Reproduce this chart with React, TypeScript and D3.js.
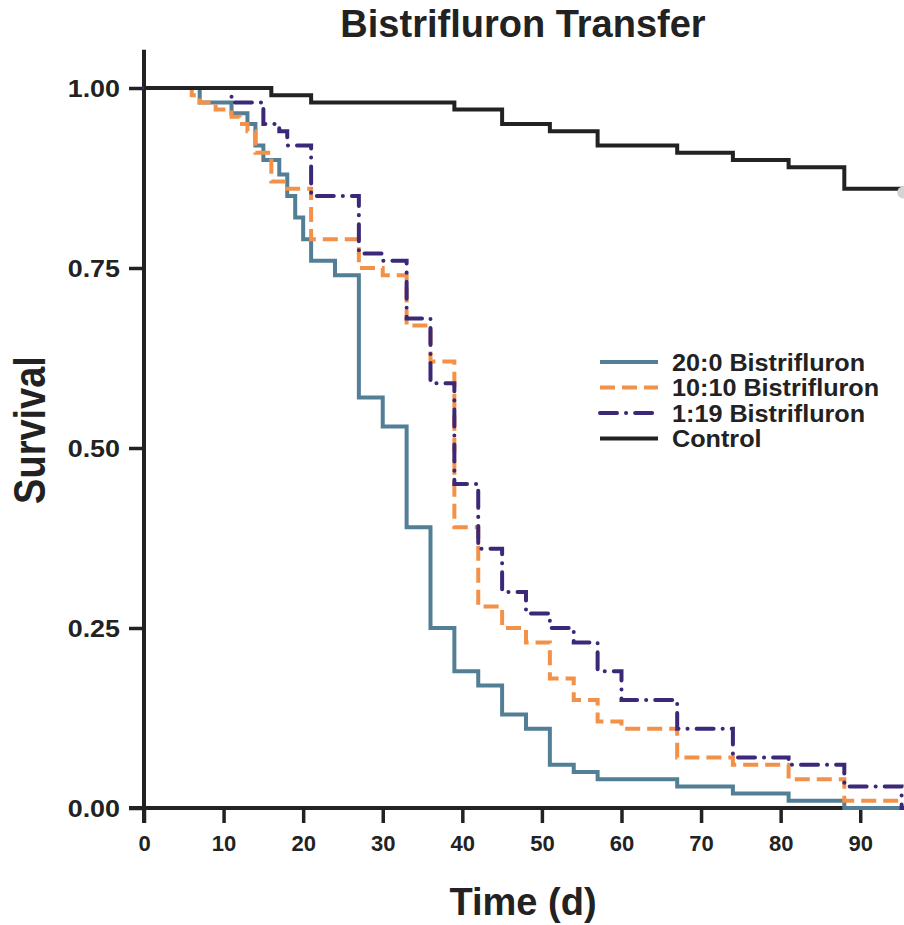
import React, { useRef, useEffect } from 'react';
import * as d3 from 'd3';

// survival steps (time in days, proportion surviving)
const blueTimes = [0, 7, 11, 13, 14, 15, 17, 18, 19, 20, 21, 24, 27, 30, 33, 36, 39, 42, 45, 48, 51, 54, 57, 67, 74, 81, 88];
const blueSurv = [1, 0.98, 0.965, 0.95, 0.92, 0.9, 0.88, 0.85, 0.82, 0.79, 0.76, 0.74, 0.57, 0.53, 0.39, 0.25, 0.19, 0.17, 0.13, 0.11, 0.06, 0.05, 0.04, 0.03, 0.02, 0.01, 0];

const orangeTimes = [0, 6, 7, 9, 11, 12, 13, 14, 16, 18, 21, 27, 30, 33, 36, 39, 42, 45, 48, 51, 54, 57, 60, 67, 74, 81, 88];
const orangeSurv = [1, 0.99, 0.98, 0.97, 0.96, 0.95, 0.94, 0.91, 0.87, 0.86, 0.79, 0.75, 0.74, 0.67, 0.62, 0.39, 0.28, 0.25, 0.23, 0.18, 0.15, 0.12, 0.11, 0.07, 0.06, 0.04, 0.01];

const purpleTimes = [0, 11, 15, 17, 18, 21, 27, 30, 33, 36, 39, 42, 45, 48, 51, 54, 57, 60, 67, 74, 81, 88, 95.2];
const purpleSurv = [1, 0.98, 0.95, 0.94, 0.92, 0.85, 0.77, 0.76, 0.68, 0.59, 0.45, 0.36, 0.3, 0.27, 0.25, 0.23, 0.19, 0.15, 0.11, 0.07, 0.06, 0.03, 0];

const controlTimes = [0, 16, 21, 39, 45, 51, 57, 67, 74, 81, 88];
const controlSurv = [1, 0.99, 0.98, 0.97, 0.95, 0.94, 0.92, 0.91, 0.9, 0.89, 0.86];

const seriesNames = ['20:0 Bistrifluron', '10:10 Bistrifluron', '1:19 Bistrifluron', 'Control'];
const xTicks = [0, 10, 20, 30, 40, 50, 60, 70, 80, 90];
const yTicks = [0, 0.25, 0.5, 0.75, 1];

const endTime = 95.5;

const App = () => {
  const svgRef = useRef<SVGSVGElement | null>(null);
  const width = 904;
  const height = 925;

  useEffect(() => {
    if (!svgRef.current) return;
    const svg = d3.select(svgRef.current);
    svg.selectAll('*').remove();

    const font = 'Liberation Sans, Arial, Helvetica, sans-serif';
    const ink = '#222';

    const x = d3.scaleLinear().domain([0, endTime]).range([144, 904]);
    const y = d3.scaleLinear().domain([0, 1]).range([808, 88]);

    const series = [
      { name: seriesNames[0], t: blueTimes, s: blueSurv, color: '#527f95', dash: null, cap: 'butt' },
      { name: seriesNames[1], t: orangeTimes, s: orangeSurv, color: '#f39149', dash: '15,7', cap: 'butt' },
      { name: seriesNames[2], t: purpleTimes, s: purpleSurv, color: '#3b2878', dash: '17,9,0.1,9', cap: 'round' },
      { name: seriesNames[3], t: controlTimes, s: controlSurv, color: ink, dash: null, cap: 'butt' },
    ];

    const line = d3.line<[number, number]>()
      .x(d => x(d[0]))
      .y(d => y(d[1]))
      .curve(d3.curveStepAfter);

    // axes (base-R look: lines meet at the origin, ticks outward)
    const gy = svg.append('g').attr('transform', `translate(${x(0)},0)`)
      .call(d3.axisLeft(y).tickValues(yTicks).tickSize(15).tickFormat(d3.format('.2f')));
    gy.select('.domain').remove();
    const gx = svg.append('g').attr('transform', `translate(0,${y(0)})`)
      .call(d3.axisBottom(x).tickValues(xTicks).tickSize(15).tickFormat(d3.format('d')));
    gx.select('.domain').remove();

    [gx, gy].forEach(g => {
      g.selectAll('line').attr('stroke', ink).attr('stroke-width', 3.5);
      g.selectAll('text')
        .attr('fill', ink)
        .style('font-family', font)
        .style('font-weight', 'bold');
    });
    gy.selectAll('text')
      .attr('x', null)
      .attr('dy', '0.36em')
      .attr('transform', 'translate(-24,0) scale(1.12,1)')
      .style('font-size', '24px');
    gx.selectAll('text').attr('y', 27).style('font-size', '22px');

    svg.append('line')
      .attr('x1', x(0)).attr('x2', x(0))
      .attr('y1', y(1.053)).attr('y2', y(0) + 15)
      .attr('stroke', ink).attr('stroke-width', 4);
    svg.append('line')
      .attr('x1', x(0) - 15).attr('x2', x(endTime))
      .attr('y1', y(0)).attr('y2', y(0))
      .attr('stroke', ink).attr('stroke-width', 4);

    // survival curves
    series.forEach(sr => {
      const pts: [number, number][] = sr.t.map((t, i) => [t, sr.s[i]]);
      pts.push([endTime, sr.s[sr.s.length - 1]]);
      svg.append('path')
        .datum(pts)
        .attr('fill', 'none')
        .attr('stroke', sr.color)
        .attr('stroke-width', 4)
        .attr('stroke-dasharray', sr.dash)
        .attr('stroke-linecap', sr.cap)
        .attr('d', line);
    });

    // censor mark at end of control
    svg.append('circle')
      .attr('cx', x(95.4))
      .attr('cy', y(0.855))
      .attr('r', 6)
      .attr('fill', '#d4d4d4');

    // legend
    const legend = svg.append('g').attr('transform', 'translate(600,362)');
    series.forEach((sr, i) => {
      const row = legend.append('g').attr('transform', `translate(0,${i * 25.5})`);
      row.append('line')
        .attr('x1', 0).attr('x2', 58)
        .attr('stroke', sr.color)
        .attr('stroke-width', 4)
        .attr('stroke-dasharray', sr.dash)
        .attr('stroke-linecap', sr.cap);
      row.append('text')
        .attr('transform', 'translate(72,0) scale(1.05,1)')
        .attr('dy', '0.36em')
        .attr('fill', ink)
        .style('font-family', font)
        .style('font-weight', 'bold')
        .style('font-size', '24px')
        .text(sr.name);
    });

    // titles
    svg.append('text')
      .attr('x', 523).attr('y', 37)
      .attr('text-anchor', 'middle')
      .attr('fill', ink)
      .style('font-family', font)
      .style('font-weight', 'bold')
      .style('font-size', '38px')
      .text('Bistrifluron Transfer');

    svg.append('text')
      .attr('x', 523).attr('y', 915)
      .attr('text-anchor', 'middle')
      .attr('fill', ink)
      .style('font-family', font)
      .style('font-weight', 'bold')
      .style('font-size', '38px')
      .text('Time (d)');

    svg.append('text')
      .attr('transform', 'translate(45,430) scale(1.18,1) rotate(-90)')
      .attr('text-anchor', 'middle')
      .attr('fill', ink)
      .style('font-family', font)
      .style('font-weight', 'bold')
      .style('font-size', '38px')
      .text('Survival');
  }, []);

  return (
    <div style={{ position: 'absolute', left: 0, top: 0 }}>
      <svg ref={svgRef} width={width} height={height} style={{ display: 'block', background: '#fff' }}></svg>
    </div>
  );
};

export default App;
